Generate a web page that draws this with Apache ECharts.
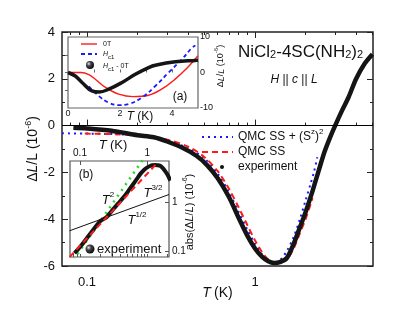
<!DOCTYPE html>
<html><head><meta charset="utf-8">
<script src="https://cdn.jsdelivr.net/npm/echarts@6/dist/echarts.min.js"></script>
<style>html,body{margin:0;padding:0;background:#fff}#c{width:415px;height:313px}</style>
</head><body><div id="c"></div><script>
// ---- main panel data ----
const expT  = [0.083,0.1,0.14,0.2,0.25,0.3,0.37,0.45,0.52,0.6,0.7,0.8,0.9,1.0,1.1,1.2,1.3,1.42,1.55,1.7,1.85,2.0,2.2,2.4,2.6,2.8,3.0,3.3,3.6,4.0,4.5,5.0];
const expDL = [-0.09,-0.12,-0.22,-0.41,-0.5,-0.68,-0.95,-1.3,-1.7,-2.25,-3.05,-3.95,-4.7,-5.25,-5.6,-5.8,-5.87,-5.82,-5.65,-5.05,-4.35,-3.7,-2.8,-1.9,-1.1,-0.5,0,0.65,1.2,2.0,2.65,3.05];
const qmcSzT  = [0.071,0.1,0.15,0.2,0.3,0.4,0.5,0.6,0.7,0.8,0.9,1.0,1.1,1.2,1.3,1.42,1.55,1.7,1.85,2.0,2.15,2.25,2.35];
const qmcSzDL = [-0.33,-0.34,-0.37,-0.43,-0.65,-0.97,-1.4,-2.05,-2.85,-3.7,-4.45,-5.05,-5.5,-5.78,-5.85,-5.72,-5.35,-4.75,-4.0,-3.2,-2.45,-1.95,-1.35];
const qmcT  = [0.097,0.15,0.2,0.3,0.4,0.5,0.6,0.7,0.8,0.9,1.0,1.1,1.2,1.3,1.42,1.55,1.7,1.85,2.0,2.2];
const qmcDL = [-0.34,-0.37,-0.42,-0.6,-0.9,-1.35,-1.95,-2.7,-3.5,-4.25,-4.9,-5.4,-5.72,-5.85,-5.85,-5.72,-5.25,-4.6,-4.0,-3.1];
const mainXLabels = [0.1, 1];
const mainXMinor = [0.08,0.09,0.2,0.3,0.4,0.5,0.6,0.7,0.8,0.9,2,3,4,5];
// ---- inset (a) data ----
const a0T_T  = [0,0.5,0.8,1.05,1.44,1.95,2.5,3.1,3.6,4.1,4.6,5.0];
const a0T_DL = [0,0,-0.6,-1.9,-4.2,-6.1,-6.8,-6.4,-4.7,-2.0,1.4,4.7];
const aHc_T  = [0.8,1.18,1.57,1.95,2.33,2.85,3.36,3.87,4.38,4.77,4.9];
const aHc_DL = [-3.9,-6.6,-8.5,-9.2,-8.9,-7.0,-3.8,0,3.7,7.0,7.6];
const aDiff_T  = [0,0.28,0.54,0.92,1.2,1.57,2.08,2.59,3.1,3.4,4.13,4.9,5.0];
const aDiff_DL = [0,-1.0,-2.8,-5.2,-5.5,-4.7,-2.8,-0.5,1.4,2.1,3.0,3.4,3.45];
const aXLabels = [0, 2, 4];
const aYLabels = [-10, 0, 10];
// ---- inset (b) data ----
const bT2_T  = [0.07, 0.85],  bT2_V  = [0.05, 7.4];
const bT32_T = [0.07, 1.41],  bT32_V = [0.075, 6.5];
const bT12_T = [0.07, 2.1],   bT12_V = [0.26, 1.45];
const bLabels = [0.1, 1];

const zip = (a, b) => a.map((v, i) => [v, b[i]]);
const FONT = 'Liberation Sans, Arial, Helvetica, sans-serif';
const chart = echarts.init(document.getElementById('c'), null, {renderer: 'canvas'});

const sphere = (cx, cy, r) => ({
  type: 'circle', z: 100, shape: {cx, cy, r},
  style: {fill: {type: 'radial', x: 0.35, y: 0.35, r: 0.75,
    colorStops: [{offset: 0, color: '#e8e8e8'}, {offset: 0.35, color: '#444'}, {offset: 1, color: '#000'}]}}
});
const txt = (x, y, text, o = {}) => ({
  type: 'text', z: 100, x, y, rotation: o.rot || 0,
  style: Object.assign({text, font: (o.size || 12) + 'px ' + FONT, fill: '#111',
    align: o.align || 'left', verticalAlign: 'middle'}, o.rich ? {rich: o.rich} : {})
});
const supRich = (s) => ({
  n: {fontSize: s, fontFamily: FONT, lineHeight: s + 6, verticalAlign: 'middle', fill: '#111'},
  i: {fontSize: s, fontFamily: FONT, fontStyle: 'italic', lineHeight: s + 6, verticalAlign: 'middle', fill: '#111'},
  s: {fontSize: Math.round(s * 0.65), fontFamily: FONT, lineHeight: Math.round(s * 0.65), verticalAlign: 'top', fill: '#111'},
  b: {fontSize: Math.max(6, Math.round(s * 0.62)), fontFamily: FONT, lineHeight: Math.max(6, Math.round(s * 0.62)), verticalAlign: 'bottom', fill: '#111'}
});

const axisLine = (c, w) => ({show: false, lineStyle: {color: c, width: w}});
const tick = (vals, len, c) => ({show: true, inside: true, length: len, customValues: vals, lineStyle: {color: c || '#222', width: 1}});

const option = {
  animation: false,
  textStyle: {fontFamily: FONT},
  grid: [
    {left: 62, top: 32, width: 311, height: 234, show: true, borderColor: '#222', borderWidth: 1.5, backgroundColor: '#fff'},
    {left: 68, top: 37, width: 130, height: 71, show: true, borderColor: '#666', borderWidth: 1.2, backgroundColor: '#fff', z: 10},
    {left: 70, top: 161, width: 99, height: 96, show: true, borderColor: '#555', borderWidth: 1.2, backgroundColor: '#fff', z: 10}
  ],
  xAxis: [
    {type: 'log', gridIndex: 0, position: 'bottom', min: 0.071, max: 5.04, axisLine: axisLine('#222', 1.5),
     axisTick: tick(mainXLabels, 6), splitLine: {show: false},
     axisLabel: {customValues: mainXLabels, fontSize: 13, color: '#111', margin: 10},
     name: '{i|T} {n|(K)}', nameLocation: 'middle', nameGap: 20, nameMoveOverlap: false,
     nameTextStyle: {rich: {i: {fontSize: 14, fontStyle: 'italic', fontFamily: FONT, color: '#111'}, n: {fontSize: 14, fontFamily: FONT, color: '#111'}}}},
    {type: 'log', gridIndex: 0, position: 'bottom', min: 0.071, max: 5.04, axisLine: axisLine(), axisTick: tick(mainXMinor, 3), axisLabel: {show: false}, splitLine: {show: false}},
    {type: 'log', gridIndex: 0, position: 'top', min: 0.071, max: 5.04, axisLine: axisLine(), axisTick: tick(mainXLabels, 6), axisLabel: {show: false}, splitLine: {show: false}},
    {type: 'log', gridIndex: 0, position: 'top', min: 0.071, max: 5.04, axisLine: axisLine(), axisTick: tick(mainXMinor, 3), axisLabel: {show: false}, splitLine: {show: false}},
    {type: 'value', gridIndex: 1, position: 'bottom', min: 0, max: 5, z: 11, axisLine: axisLine(),
     axisTick: tick([1,2,3,4], 3, '#666'), splitLine: {show: false},
     axisLabel: {customValues: aXLabels, fontSize: 9, color: '#111', margin: 1}},
    {type: 'log', gridIndex: 2, position: 'top', min: 0.071, max: 2.1, z: 11, axisLine: axisLine(),
     axisTick: tick(bLabels, 4, '#555'), splitLine: {show: false},
     axisLabel: {customValues: bLabels, fontSize: 10, color: '#111', margin: 3}},
    {type: 'log', gridIndex: 2, position: 'bottom', min: 0.071, max: 2.1, z: 11, axisLine: axisLine(),
     axisTick: tick([0.08,0.09,0.1,0.2,0.3,0.4,0.5,0.6,0.7,0.8,0.9,1,2], 3, '#555'), axisLabel: {show: false}, splitLine: {show: false}}
  ],
  yAxis: [
    {type: 'value', gridIndex: 0, position: 'left', min: -6, max: 4, interval: 2, axisLine: axisLine(),
     axisTick: {show: true, inside: true, length: 6, lineStyle: {color: '#222'}},
     minorTick: {show: true, splitNumber: 2, length: 3, lineStyle: {color: '#222'}},
     splitLine: {show: false}, minorSplitLine: {show: false},
     axisLabel: {fontSize: 13, color: '#111', margin: 7},
     name: '{n|Δ}{i|L}{n|/L (10}{s|-6}{n|)}', nameLocation: 'middle', nameGap: 20, nameRotate: 90, nameMoveOverlap: false,
     nameTextStyle: {rich: {
       n: {fontSize: 14, fontFamily: FONT, color: '#111', lineHeight: 18, verticalAlign: 'middle'},
       i: {fontSize: 14, fontFamily: FONT, fontStyle: 'italic', color: '#111', lineHeight: 18, verticalAlign: 'middle'},
       s: {fontSize: 9, fontFamily: FONT, color: '#111', lineHeight: 9, verticalAlign: 'top'}}}},
    {type: 'value', gridIndex: 0, position: 'right', min: -6, max: 4, interval: 2, axisLine: axisLine(),
     axisTick: {show: true, inside: true, length: 6, lineStyle: {color: '#222'}},
     minorTick: {show: true, splitNumber: 2, length: 3, lineStyle: {color: '#222'}},
     splitLine: {show: false}, minorSplitLine: {show: false}, axisLabel: {show: false}},
    {type: 'value', gridIndex: 1, position: 'right', min: -10, max: 10, z: 11, axisLine: axisLine(),
     axisTick: tick([-5, 0, 5], 3, '#666'), splitLine: {show: false},
     axisLabel: {customValues: aYLabels, fontSize: 9, color: '#111', margin: 2}},
    {type: 'log', gridIndex: 2, position: 'right', min: 0.075, max: 7.1, z: 11, axisLine: axisLine(),
     axisTick: tick(bLabels, 4, '#555'), splitLine: {show: false},
     axisLabel: {customValues: bLabels, fontSize: 10, color: '#111', margin: 3}}
  ],
  series: [
    {name: 'QMC SS + (S^z)^2', type: 'line', xAxisIndex: 0, yAxisIndex: 0, data: zip(qmcSzT, qmcSzDL), smooth: 0.3,
     showSymbol: false, z: 3, lineStyle: {color: '#1a1aff', width: 2, type: [2, 4]}},
    {name: 'QMC SS', type: 'line', xAxisIndex: 0, yAxisIndex: 0, data: zip(qmcT, qmcDL), smooth: 0.3,
     showSymbol: false, z: 3, lineStyle: {color: '#ff1a1a', width: 2, type: [6, 4]}},
    {name: 'experiment', type: 'line', xAxisIndex: 0, yAxisIndex: 0, data: zip(expT, expDL), smooth: 0.3,
     showSymbol: false, z: 4, lineStyle: {color: '#151515', width: 4.5},
     markLine: {silent: true, symbol: 'none', label: {show: false}, lineStyle: {color: '#000', width: 1, type: 'solid'}, data: [{yAxis: 0}]}},
    // inset (a)
    {name: '0T', type: 'line', xAxisIndex: 4, yAxisIndex: 2, data: zip(a0T_T, a0T_DL), smooth: 0.4,
     showSymbol: false, z: 12, lineStyle: {color: '#ff1a1a', width: 1.4},
     markLine: {silent: true, symbol: 'none', label: {show: false}, lineStyle: {color: '#222', width: 1, type: 'solid'}, data: [{yAxis: 0}]}},
    {name: 'Hc1', type: 'line', xAxisIndex: 4, yAxisIndex: 2, data: zip(aHc_T, aHc_DL), smooth: 0.4,
     showSymbol: false, z: 12, lineStyle: {color: '#1a1aff', width: 1.8, type: [4, 3]}},
    {name: 'Hc1 - 0T', type: 'line', xAxisIndex: 4, yAxisIndex: 2, data: zip(aDiff_T, aDiff_DL), smooth: 0.4,
     showSymbol: false, z: 13, lineStyle: {color: '#151515', width: 3.5}},
    // inset (b)
    {name: 'T^1/2', type: 'line', xAxisIndex: 5, yAxisIndex: 3, data: zip(bT12_T, bT12_V),
     showSymbol: false, z: 12, lineStyle: {color: '#111', width: 1}},
    {name: 'T^2', type: 'line', xAxisIndex: 5, yAxisIndex: 3, data: zip(bT2_T, bT2_V),
     showSymbol: false, z: 12, lineStyle: {color: '#22dd22', width: 2.5, type: [2, 5]}},
    {name: 'abs experiment', type: 'line', xAxisIndex: 5, yAxisIndex: 3,
     data: zip(expT, expDL).filter(p => p[0] <= 2.2).map(p => [p[0], Math.abs(p[1])]), smooth: 0.3,
     showSymbol: false, z: 13, lineStyle: {color: '#151515', width: 4}},
    {name: 'T^3/2', type: 'line', xAxisIndex: 5, yAxisIndex: 3, data: zip(bT32_T, bT32_V),
     showSymbol: false, z: 14, lineStyle: {color: '#ff1a1a', width: 2, type: [6, 4]}}
  ],
  graphic: [
    txt(238, 52, 'NiCl{b|2}-4SC(NH{b|2}){b|2}', {rich: supRich(17), size: 17}),
    txt(294, 80, '{i|H} {n|||} {i|c} {n|||} {i|L}', {rich: supRich(12), align: 'center'}),
    {type: 'line', z: 100, shape: {x1: 202, y1: 137, x2: 233, y2: 137}, style: {stroke: '#1a1aff', lineWidth: 2, lineDash: [2, 4]}},
    {type: 'line', z: 100, shape: {x1: 202, y1: 152, x2: 233, y2: 152}, style: {stroke: '#ff1a1a', lineWidth: 2, lineDash: [6, 4]}},
    {type: 'circle', z: 100, shape: {cx: 222, cy: 167, r: 2}, style: {fill: '#111'}},
    txt(238, 137, '{n|QMC SS + (S}{s|z}{n|)}{s|2}', {rich: supRich(12)}),
    txt(238, 152, 'QMC SS', {size: 12}),
    txt(238, 167, 'experiment', {size: 12}),
    // inset (a) legend & labels
    {type: 'line', z: 100, shape: {x1: 81, y1: 44, x2: 97, y2: 44}, style: {stroke: '#ff1a1a', lineWidth: 1.4}},
    {type: 'line', z: 100, shape: {x1: 81, y1: 54, x2: 97, y2: 54}, style: {stroke: '#1a1aff', lineWidth: 1.8, lineDash: [4, 3]}},
    sphere(90, 65, 4),
    txt(103, 44, '0T', {size: 7}),
    txt(103, 54, '{i|H}{b|c1}', {rich: supRich(7)}),
    txt(103, 66, '{i|H}{b|c1}{n| - 0T}', {rich: supRich(7)}),
    txt(180, 97, '(a)', {size: 12, align: 'center'}),
    txt(140, 117, '{i|T} {n|(K)}', {rich: supRich(12), align: 'center'}),
    txt(221, 66, '{n|Δ}{i|L}{n|/}{i|L}{n| (10}{s|-6}{n|)}', {rich: supRich(9), align: 'center', rot: Math.PI / 2}),
    // inset (b) labels
    txt(86, 175, '(b)', {size: 12, align: 'center'}),
    txt(108, 200, '{i|T}{s|2}', {rich: supRich(13), align: 'center'}),
    txt(153, 193, '{i|T}{s|3/2}', {rich: supRich(13), align: 'center'}),
    txt(137, 220, '{i|T}{s|1/2}', {rich: supRich(13), align: 'center'}),
    sphere(90, 249, 4.5),
    txt(97, 249, 'experiment', {size: 13}),
    txt(113, 145, '{i|T} {n|(K)}', {rich: supRich(13), align: 'center'}),
    txt(190, 212, '{n|abs(Δ}{i|L}{n|/}{i|L}{n|) (10}{s|-6}{n|)}', {rich: supRich(11), align: 'center', rot: Math.PI / 2})
  ]
};
chart.setOption(option);
</script></body></html>
